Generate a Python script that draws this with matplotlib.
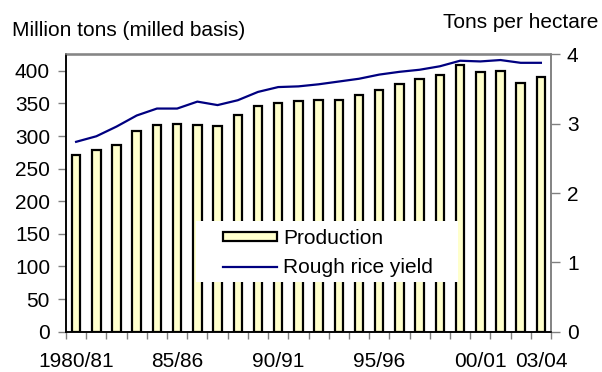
import matplotlib
matplotlib.use("Agg")
import matplotlib.pyplot as plt
from matplotlib.patches import Rectangle
import numpy as np

plt.rcParams['font.family'] = ['Liberation Sans', 'DejaVu Sans']

years = ["1980/81", "81/82", "82/83", "83/84", "84/85", "85/86", "86/87", "87/88",
         "88/89", "89/90", "90/91", "91/92", "92/93", "93/94", "94/95", "95/96",
         "96/97", "97/98", "98/99", "99/00", "00/01", "01/02", "02/03", "03/04"]
production = [270.6, 278.2, 285.9, 307.4, 317.0, 318.0, 316.6, 316.0, 332.8, 345.7,
              351.2, 353.8, 354.9, 355.4, 363.5, 370.7, 380.4, 387.1, 394.2, 408.6,
              398.8, 399.4, 381.0, 391.1]
yield_t = [2.74, 2.82, 2.96, 3.12, 3.22, 3.22, 3.32, 3.27, 3.34, 3.46,
           3.53, 3.54, 3.57, 3.61, 3.65, 3.71, 3.75, 3.78, 3.83, 3.91,
           3.90, 3.92, 3.88, 3.88]
shown_labels = {0: "1980/81", 5: "85/86", 10: "90/91", 15: "95/96", 20: "00/01", 23: "03/04"}

W, H = 602, 372
fig = plt.figure(figsize=(W / 100, H / 100), dpi=100)
L, R, T, B = 66, 551, 54.5, 331.7
ax = fig.add_axes([L / W, (H - B) / H, (R - L) / W, (B - T) / H])
ax2 = ax.twinx()

x = np.arange(len(years))
bars = ax.bar(x, production, width=0.42, color='#FFFFCC', edgecolor='black',
              linewidth=1.6, label='Production', zorder=2)
ln, = ax2.plot(x, yield_t, color='#000080', lw=1.6, label='Rough rice yield', zorder=3)

ax.set_xlim(-0.5, len(years) - 0.5)
ax.set_ylim(0, 425)
ax.set_yticks(np.arange(0, 401, 50))
ax2.set_ylim(0, 4)
ax2.set_yticks([0, 1, 2, 3, 4])

ax.set_xticks(list(shown_labels.keys()))
ax.set_xticklabels(list(shown_labels.values()))
ax.set_xticks(np.arange(-0.5, len(years)), minor=True)
ax.tick_params(axis='x', which='major', length=0, pad=14.5, labelsize=15)
ax.tick_params(axis='x', which='minor', length=5, width=1, color='#808080', direction='out')
ax.tick_params(axis='y', length=5.5, width=1, color='#808080', pad=6, labelsize=15)
ax2.tick_params(axis='y', length=6.5, width=1, color='#808080', pad=5, labelsize=15)

for a in (ax, ax2):
    a.spines['top'].set_color('#808080')
    a.spines['right'].set_color('#808080')
    a.spines['left'].set_color('black')
    a.spines['bottom'].set_color('black')
    for s in a.spines.values():
        s.set_linewidth(1.1)

fig.text(12 / W, 1 - 31 / H, "Million tons (milled basis)", fontsize=15, ha='left', va='center')
fig.text(598 / W, 1 - 22 / H, "Tons per hectare", fontsize=15, ha='right', va='center')

# white legend background box
bg = Rectangle(((196 - L) / (R - L), (B - 282) / (B - T)),
               (458 - 196) / (R - L), (282 - 221) / (B - T),
               transform=ax2.transAxes, facecolor='white', edgecolor='none', zorder=4)
ax2.add_patch(bg)

leg = ax2.legend([bars, ln], ['Production', 'Rough rice yield'],
                 loc='upper left', bbox_to_anchor=((223 - L) / (R - L), (B - 229) / (B - T)),
                 borderaxespad=0, frameon=False, fontsize=15,
                 handlelength=2.6, handleheight=0.35, handletextpad=0.3,
                 borderpad=0, labelspacing=0.48)
leg.set_zorder(5)

fig.savefig("out.png", dpi=100)
